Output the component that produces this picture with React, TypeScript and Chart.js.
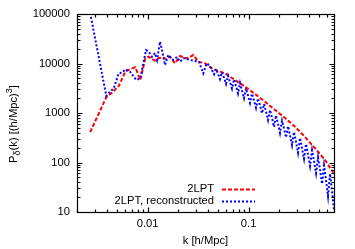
import React, { useEffect, useRef } from "react";
import { Chart, registerables } from "chart.js";

Chart.register(...registerables);

// ---- data ----
const kRed = [
  0.0027, 0.0039, 0.00444, 0.00518, 0.00601, 0.00674, 0.00755, 0.00847, 0.00949,
  0.01025, 0.01105, 0.01184, 0.01297, 0.01421, 0.01521, 0.01667, 0.01867, 0.02093,
  0.02438, 0.0263, 0.02835, 0.03177, 0.03701, 0.04312, 0.04977, 0.05838, 0.07334,
  0.09214, 0.1157, 0.1453, 0.1826, 0.2293, 0.288, 0.3618, 0.4544, 0.5708, 0.69,
];
const pRed = [
  410, 2080, 2570, 3510, 6830, 7740, 8380, 4640, 12700,
  13700, 12300, 11400, 12900, 13300, 12300, 13700, 10100, 14200,
  12700, 13500, 14800, 10900, 10100, 8000, 7060, 6340, 4640,
  3400, 2420, 1690, 1150, 792, 529, 327, 194, 112, 62,
];

const kBlue = [
  0.0027, 0.0039, 0.00427, 0.00462, 0.00518, 0.00558, 0.00601, 0.00674, 0.00773,
  0.00847, 0.00964, 0.01025, 0.01105, 0.01184, 0.01239, 0.01327, 0.01389, 0.01487,
  0.01603, 0.01705, 0.01797, 0.01954, 0.02093, 0.02293, 0.0263, 0.02946, 0.03228,
  0.0356, 0.03847,
  0.04148, 0.04341, 0.04545, 0.04755, 0.04977, 0.05209, 0.05452, 0.05707, 0.05974,
  0.06252, 0.06544, 0.06849, 0.07169, 0.07503, 0.07852, 0.08218, 0.08601, 0.09002,
  0.09423, 0.09863, 0.1032, 0.108, 0.1131, 0.1183, 0.1239, 0.1297, 0.1357,
  0.1421, 0.1487, 0.1556, 0.1628, 0.1704, 0.1784, 0.1867, 0.1954, 0.2045,
  0.2141, 0.2241, 0.2345, 0.2455, 0.2569, 0.2689, 0.2814, 0.2945, 0.3083,
  0.3227, 0.3377, 0.3535, 0.37, 0.3873, 0.4054, 0.4243, 0.4441, 0.4648,
  0.4864, 0.5091, 0.5329, 0.5577, 0.5837, 0.6109, 0.6394, 0.6692, 0.7,
];
const pBlue = [
  105000, 2205, 2690, 3150, 6340, 6520, 7640, 6740, 4640,
  5020, 18700, 17300, 13700, 16300, 11800, 27600, 18700, 9300,
  14850, 12900, 11800, 13500, 10900, 12900, 11800, 11200, 10700,
  6340, 10100,
  8900, 7320, 6080, 7740, 6220, 4860, 6670, 5190, 3890,
  5640, 4230, 3110, 4770, 3480, 2490, 4040, 2820, 1990,
  3140, 2226, 1592, 2465, 1772, 1274, 1972, 1418, 991,
  1520, 1057, 722, 1150, 792, 526, 894, 608, 394,
  696, 489, 320, 541, 351, 224, 413, 261, 158,
  313, 194, 119, 236, 143, 85, 176, 106, 61,
  126, 71, 37, 87, 44, 21, 59, 27, 11,
];

const seriesLabels = ["2LPT", "2LPT, reconstructed"];
const xTicks = [0.01, 0.1];
const yTicks = [10, 100, 1000, 10000, 100000];
const xTitle = "k [h/Mpc]";
const yTitleParts: [string, string][] = [
  ["P", "n"],
  ["δ", "sub"],
  ["(k) [(h/Mpc)", "n"],
  ["3", "sup"],
  ["]", "n"],
];

const FONT = '"Liberation Sans", Arial, Helvetica, sans-serif';

const framePlugin = {
  id: "gnuframe",
  afterDatasetsDraw(chart: any) {
    const { ctx, chartArea: a, scales } = chart;
    const xs = scales.x;
    const ys = scales.y;
    const L = Math.round(a.left) + 0.5;
    const R = Math.round(a.right) + 0.5;
    const T = Math.round(a.top) + 0.5;
    const B = Math.round(a.bottom) + 0.5;
    ctx.save();
    ctx.strokeStyle = "#000";
    ctx.lineWidth = 1.2;
    ctx.setLineDash([]);
    ctx.strokeRect(L, T, R - L, B - T);

    const major = 5;
    const minor = 3;
    const xMin = xs.min, xMax = xs.max;
    for (let e = Math.floor(Math.log10(xMin)); e <= Math.ceil(Math.log10(xMax)); e++) {
      for (let m = 1; m <= 9; m++) {
        const v = m * Math.pow(10, e);
        if (v < xMin * 0.999 || v > xMax * 1.001) continue;
        const px = Math.round(xs.getPixelForValue(v)) + 0.5;
        const len = m === 1 ? major : minor;
        ctx.beginPath();
        ctx.moveTo(px, B);
        ctx.lineTo(px, B - len);
        ctx.moveTo(px, T);
        ctx.lineTo(px, T + len);
        ctx.stroke();
      }
    }
    const yMin = ys.min, yMax = ys.max;
    for (let e = Math.floor(Math.log10(yMin)); e <= Math.ceil(Math.log10(yMax)); e++) {
      for (let m = 1; m <= 9; m++) {
        const v = m * Math.pow(10, e);
        if (v < yMin * 0.999 || v > yMax * 1.001) continue;
        const py = Math.round(ys.getPixelForValue(v)) + 0.5;
        const len = m === 1 ? major : minor;
        ctx.beginPath();
        ctx.moveTo(L, py);
        ctx.lineTo(L + len, py);
        ctx.moveTo(R, py);
        ctx.lineTo(R - len, py);
        ctx.stroke();
      }
    }

    ctx.fillStyle = "#000";
    ctx.font = `11.2px ${FONT}`;
    ctx.textAlign = "center";
    ctx.textBaseline = "middle";
    xTicks.forEach((v) => {
      ctx.fillText(String(v), xs.getPixelForValue(v), a.bottom + 12);
    });
    ctx.textAlign = "right";
    yTicks.forEach((v) => {
      ctx.fillText(String(v), a.left - 7, ys.getPixelForValue(v));
    });

    ctx.textAlign = "center";
    ctx.fillText(xTitle, (a.left + a.right) / 2, a.bottom + 29);

    ctx.save();
    ctx.translate(17, 124);
    ctx.rotate(-Math.PI / 2);
    ctx.textBaseline = "alphabetic";
    ctx.textAlign = "left";
    const fontFor = (kind: string) => (kind === "n" ? `11.2px ${FONT}` : `9px ${FONT}`);
    let total = 0;
    yTitleParts.forEach(([t, k]) => {
      ctx.font = fontFor(k);
      total += ctx.measureText(t).width;
    });
    let cx = -total / 2;
    yTitleParts.forEach(([t, k]) => {
      ctx.font = fontFor(k);
      const dy = k === "sub" ? 3 : k === "sup" ? -5 : 0;
      ctx.fillText(t, cx, dy);
      cx += ctx.measureText(t).width;
    });
    ctx.restore();

    const textRight = 214;
    const sampleL = 222;
    const sampleR = 255;
    const rows = [189, 201];
    chart.data.datasets.forEach((ds: any, i: number) => {
      const y = rows[i];
      ctx.font = `11.2px ${FONT}`;
      ctx.textAlign = "right";
      ctx.textBaseline = "middle";
      ctx.fillStyle = "#000";
      ctx.fillText(ds.label, textRight, y);
      ctx.beginPath();
      ctx.strokeStyle = ds.borderColor;
      ctx.lineWidth = ds.borderWidth;
      ctx.setLineDash(ds.borderDash || []);
      ctx.moveTo(sampleL, y + 0.5);
      ctx.lineTo(sampleR, y + 0.5);
      ctx.stroke();
    });
    ctx.restore();
  },
};

export default function App() {
  const ref = useRef<HTMLCanvasElement | null>(null);

  useEffect(() => {
    document.body.style.margin = "0";
    const canvas = ref.current;
    if (!canvas) return;
    const chart = new Chart(canvas, {
      type: "line",
      data: {
        datasets: [
          {
            label: seriesLabels[0],
            data: kRed.map((k, i) => ({ x: k, y: pRed[i] })),
            borderColor: "#ff0000",
            borderWidth: 2,
            borderDash: [4, 2],
            pointRadius: 0,
            fill: false,
            tension: 0,
            order: 1,
          },
          {
            label: seriesLabels[1],
            data: kBlue.map((k, i) => ({ x: k, y: pBlue[i] })),
            borderColor: "#0000ff",
            borderWidth: 2,
            borderDash: [2, 2],
            pointRadius: 0,
            fill: false,
            tension: 0,
            order: 0,
          },
        ],
      },
      options: {
        animation: false,
        responsive: false,
        devicePixelRatio: 1,
        layout: { padding: { left: 77, top: 14, right: 21, bottom: 37 } },
        plugins: {
          legend: { display: false },
          tooltip: { enabled: false },
        },
        events: [],
        scales: {
          x: { type: "logarithmic", min: 0.002, max: 0.7, display: false },
          y: { type: "logarithmic", min: 10, max: 100000, display: false },
        },
      },
      plugins: [framePlugin],
    });
    return () => chart.destroy();
  }, []);

  return <canvas ref={ref} width={355} height={249} style={{ display: "block" }} />;
}
